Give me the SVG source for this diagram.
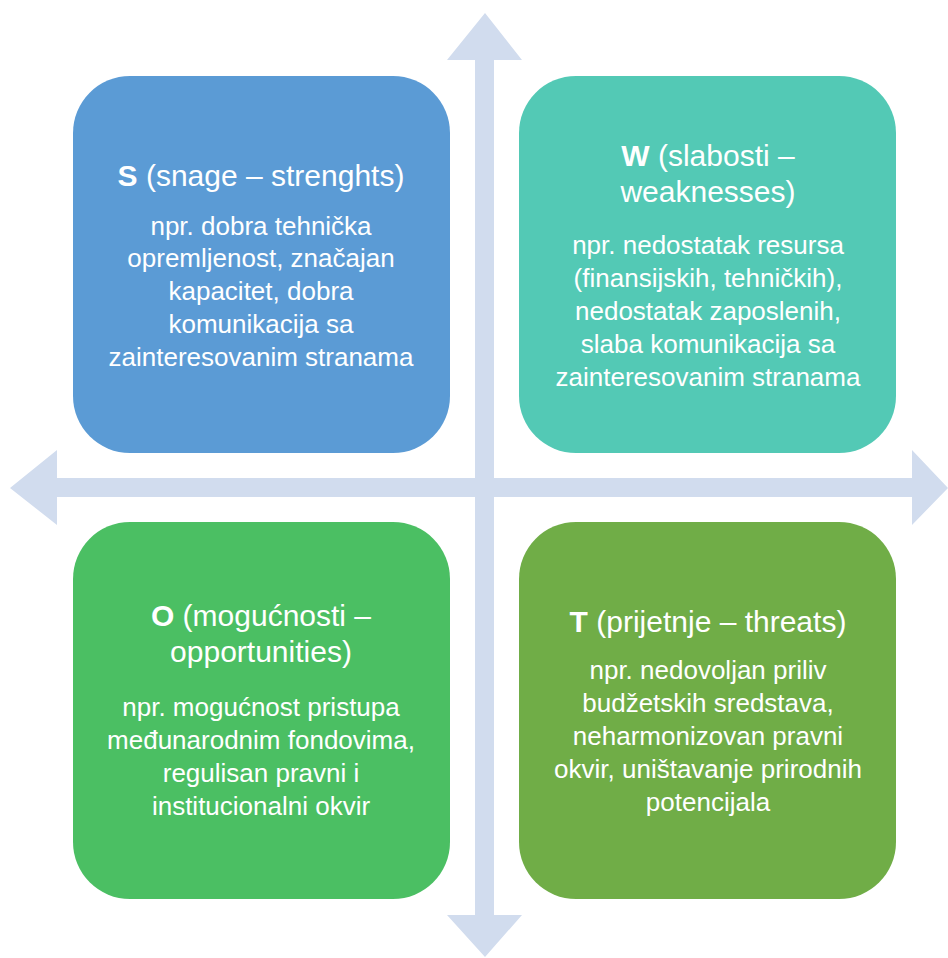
<svg xmlns="http://www.w3.org/2000/svg" width="948" height="958" viewBox="0 0 948 958">
<style>
.box{stroke:none}
.t{font-family:"Liberation Sans",Arial,sans-serif;fill:#ffffff;text-anchor:middle}
.h{font-size:30px}
.b{font-size:26px}
.k{font-weight:bold}
.ax{fill:#D1DCEE}
</style>
<g id="connectors">
<polygon class="ax" points="475,60 447,60 485,13 522,60 494,60 494,478 912,478 912,450 948,488 912,525 912,497 494,497 494,915 522,915 485,957 447,915 475,915 475,497 57,497 57,525 10,488 57,450 57,478 475,478"/>
</g>
<g id="S">
<rect class="box" x="73" y="76" width="377" height="377" rx="57" fill="#5B9BD5"/>
<text class="t h" x="261" y="186"><tspan class="k">S</tspan> (snage – strenghts)</text>
<text class="t b" x="261" y="235">npr. dobra tehnička</text>
<text class="t b" x="261" y="267">opremljenost, značajan</text>
<text class="t b" x="261" y="300">kapacitet, dobra</text>
<text class="t b" x="261" y="333">komunikacija sa</text>
<text class="t b" x="261" y="366">zainteresovanim stranama</text>
</g>
<g id="W">
<rect class="box" x="519" y="76" width="377" height="377" rx="57" fill="#53C9B5"/>
<text class="t h" x="708" y="166"><tspan class="k">W</tspan> (slabosti –</text>
<text class="t h" x="708" y="202">weaknesses)</text>
<text class="t b" x="708" y="254">npr. nedostatak resursa</text>
<text class="t b" x="708" y="287">(finansijskih, tehničkih),</text>
<text class="t b" x="708" y="320">nedostatak zaposlenih,</text>
<text class="t b" x="708" y="353">slaba komunikacija sa</text>
<text class="t b" x="708" y="386">zainteresovanim stranama</text>
</g>
<g id="O">
<rect class="box" x="73" y="522" width="377" height="377" rx="57" fill="#4BBF63"/>
<text class="t h" x="261" y="626"><tspan class="k">O</tspan> (mogućnosti –</text>
<text class="t h" x="261" y="662">opportunities)</text>
<text class="t b" x="261" y="716">npr. mogućnost pristupa</text>
<text class="t b" x="261" y="749">međunarodnim fondovima,</text>
<text class="t b" x="261" y="782">regulisan pravni i</text>
<text class="t b" x="261" y="815">institucionalni okvir</text>
</g>
<g id="T">
<rect class="box" x="519" y="522" width="377" height="377" rx="57" fill="#70AD47"/>
<text class="t h" x="708" y="632"><tspan class="k">T</tspan> (prijetnje – threats)</text>
<text class="t b" x="708" y="679">npr. nedovoljan priliv</text>
<text class="t b" x="708" y="712">budžetskih sredstava,</text>
<text class="t b" x="708" y="745">neharmonizovan pravni</text>
<text class="t b" x="708" y="778">okvir, uništavanje prirodnih</text>
<text class="t b" x="708" y="811">potencijala</text>
</g>
</svg>
